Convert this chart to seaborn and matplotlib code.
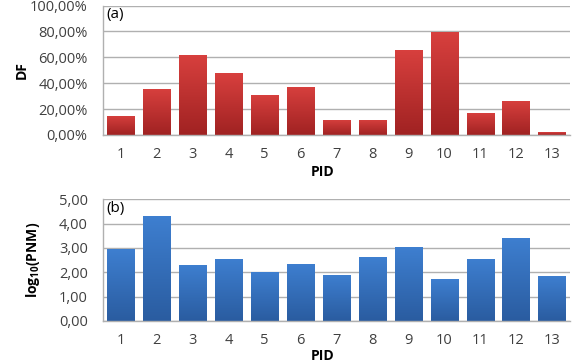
import numpy as np
import pandas as pd
import matplotlib
matplotlib.use("Agg")
import matplotlib.pyplot as plt
import seaborn as sns
from matplotlib.ticker import FuncFormatter
from matplotlib.colors import LinearSegmentedColormap

# dados
pid = [str(i) for i in range(1, 14)]
df_vals = [15.0, 35.9, 62.0, 47.8, 31.2, 37.4, 11.9, 11.9, 65.9, 79.8, 17.3, 26.6, 2.3]
pnm_vals = [2.95, 4.30, 2.32, 2.55, 2.00, 2.35, 1.89, 2.61, 3.03, 1.71, 2.55, 3.43, 1.86]

sns.set_theme(style="white")
plt.rcParams['font.family'] = ['Open Sans', 'DejaVu Sans']
plt.rcParams['mathtext.default'] = 'regular'

tick_col = '#404040'
grid_col = '#b0b0b0'

fig = plt.figure(figsize=(5.74, 3.64), dpi=100)
ax1 = fig.add_axes([103/574, 1-135/364, 467/574, 129.5/364])
ax2 = fig.add_axes([103/574, 1-321/364, 467/574, 121.7/364])


def gradiente(ax, cor_topo, cor_base):
    cmap = LinearSegmentedColormap.from_list('g', [cor_base, cor_topo])
    grad = np.linspace(0, 1, 256).reshape(-1, 1)
    for p in ax.patches:
        x0, y0 = p.get_x(), p.get_y()
        w, h = p.get_width(), p.get_height()
        im = ax.imshow(grad, cmap=cmap, aspect='auto', origin='lower',
                       extent=[x0, x0 + w, y0, y0 + h], zorder=p.get_zorder())
        im.set_clip_path(p)
        p.set_facecolor('none')
        p.set_edgecolor('none')


def estilo(ax, ylim, step, fmt, ylabel, painel):
    ax.set_xlim(-0.5, 12.5)
    ax.set_ylim(*ylim)
    ax.set_yticks(np.arange(ylim[0], ylim[1] + step / 2, step))
    ax.yaxis.set_major_formatter(FuncFormatter(fmt))
    ax.yaxis.grid(True, color=grid_col, linewidth=1.0)
    ax.set_axisbelow(True)
    for s in ['top', 'right']:
        ax.spines[s].set_visible(False)
    for s in ['left', 'bottom']:
        ax.spines[s].set_color(grid_col)
        ax.spines[s].set_linewidth(1.0)
    ax.tick_params(axis='y', length=4, color=grid_col, labelsize=10.5,
                   labelcolor=tick_col, pad=7)
    ax.tick_params(axis='x', length=0, labelsize=10.5, labelcolor=tick_col, pad=9)
    ax.set_ylabel(ylabel, fontsize=10, fontweight='bold', color='black')
    ax.set_xlabel('PID', fontsize=10, fontweight='bold', color='black')
    ax.text(0.008, 0.985, painel, transform=ax.transAxes, fontsize=11,
            va='top', ha='left', color='black')


sns.barplot(x=pid, y=df_vals, ax=ax1, color='#c83232', width=0.76, saturation=1)
gradiente(ax1, '#d8403e', '#a02222')
estilo(ax1, (0, 100), 20, lambda v, p: f"{v:.2f}".replace('.', ',') + '%', 'DF', '(a)')
ax1.yaxis.set_label_coords(-0.16, 0.5)
ax1.xaxis.set_label_coords(0.47, -0.23)

sns.barplot(x=pid, y=pnm_vals, ax=ax2, color='#3570c0', width=0.76, saturation=1)
gradiente(ax2, '#3e7fd0', '#2a5ca0')
estilo(ax2, (0, 5), 1, lambda v, p: f"{v:.2f}".replace('.', ','), r'log$_{10}$(PNM)', '(b)')
ax2.yaxis.set_label_coords(-0.13, 0.5)
ax2.xaxis.set_label_coords(0.47, -0.23)

fig.savefig('out.png', dpi=100)
